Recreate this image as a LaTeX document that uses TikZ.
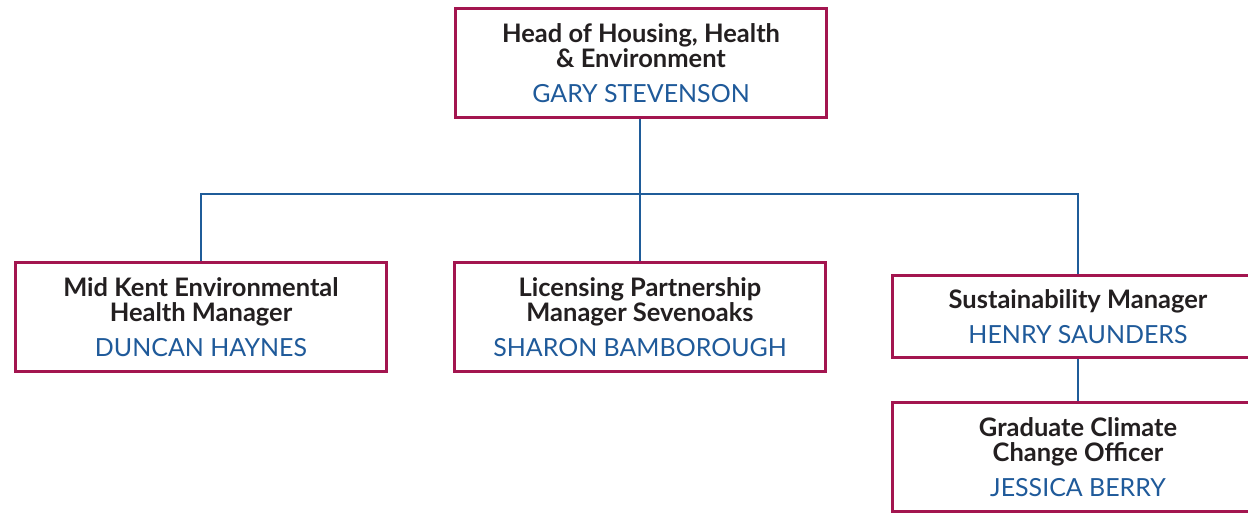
\documentclass[tikz,border=0pt]{standalone}
\usepackage{fontspec}
\setmainfont{Lato}
\usepackage{tikz}
\usetikzlibrary{positioning,calc}

\definecolor{boxred}{HTML}{A3154F}
\definecolor{lineblue}{HTML}{1F5C99}
\definecolor{nameblue}{HTML}{1F5A9A}
\definecolor{titledark}{HTML}{231F20}

\newcommand{\who}[1]{{\color{nameblue}\fontsize{14.2}{16}\selectfont\mdseries #1}}

\tikzset{
  post/.style={draw=boxred,line width=1.7pt,fill=white,align=center,
    minimum width=7.44cm,minimum height=2.2cm,inner sep=0pt,
    text=titledark,font=\fontsize{14.5}{14.4}\selectfont\bfseries},
  conn/.style={draw=lineblue,line width=1.1pt}
}

\begin{document}
\begin{tikzpicture}[x=0.02cm,y=-0.02cm]

\useasboundingbox (0,0) rectangle (1248,513);
\clip (0,0) rectangle (1248,513);

\node [post] (head) at (641,63) {Head of Housing, Health\\ \& Environment\\[5.5pt]\who{GARY STEVENSON}};
\node [post] (mid) at (201,317) {Mid Kent Environmental\\ Health Manager\\[5.5pt]\who{DUNCAN HAYNES}};
\node [post] (lic) at (640,317) {Licensing Partnership\\ Manager Sevenoaks\\[5.5pt]\who{SHARON BAMBOROUGH}};
\node [post,minimum height=1.66cm] (sust) at (1078,316.5) {Sustainability Manager\\[5.5pt]\who{HENRY SAUNDERS}};
\node [post] (grad) at (1078,457) {Graduate Climate\\ Change Officer\\[5.5pt]\who{JESSICA BERRY}};

\coordinate (split) at (640,194);

\begin{scope}[conn]
\draw (head.south -| split) -- (split);
\draw (split) -- (lic.north);
\draw (split) -| (mid.north);
\draw (split) -| (sust.north);
\draw (sust.south) -- (grad.north);
\end{scope}

\end{tikzpicture}
\end{document}
